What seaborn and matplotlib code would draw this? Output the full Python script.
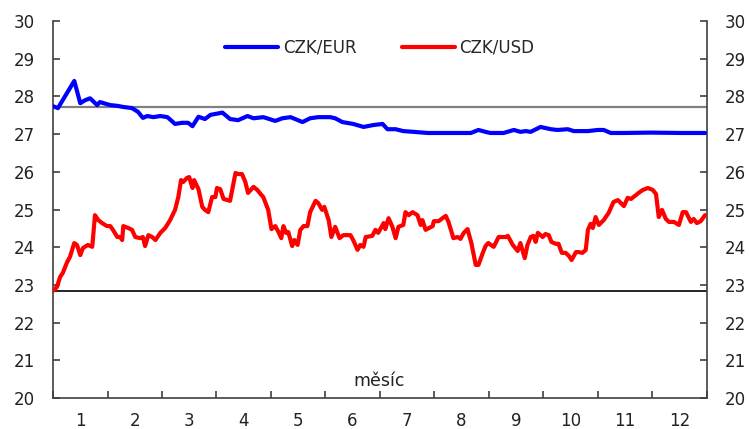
import matplotlib
matplotlib.use("Agg")
import matplotlib.pyplot as plt
import numpy as np
import pandas as pd
import seaborn as sns

# month position (0 = start of January, 12 = end of December) and rate
eur_t = [0, 0.09, 0.39, 0.50, 0.59, 0.68, 0.81, 0.86, 1.05, 1.18, 1.29, 1.45,
         1.56, 1.65, 1.73, 1.84, 1.97, 2.10, 2.24, 2.37, 2.48, 2.56, 2.67, 2.79,
         2.89, 3.11, 3.25, 3.40, 3.57, 3.68, 3.86, 4.08, 4.21, 4.36, 4.58, 4.72,
         4.87, 5.09, 5.18, 5.31, 5.51, 5.70, 5.88, 6.05, 6.14, 6.29, 6.43, 6.62,
         6.88, 7.06, 7.24, 7.67, 7.81, 7.94, 8.03, 8.27, 8.46, 8.58, 8.68, 8.77,
         8.95, 9.14, 9.26, 9.45, 9.56, 9.82, 10.00, 10.11, 10.24, 10.48, 10.97,
         11.53, 11.97]
eur_val = [27.74, 27.69, 28.41, 27.82, 27.90, 27.95, 27.77, 27.85, 27.77, 27.75,
           27.72, 27.69, 27.59, 27.43, 27.48, 27.45, 27.48, 27.45, 27.27, 27.30,
           27.30, 27.21, 27.46, 27.40, 27.51, 27.57, 27.40, 27.37, 27.48, 27.42,
           27.45, 27.35, 27.42, 27.45, 27.32, 27.42, 27.45, 27.45, 27.42, 27.32,
           27.27, 27.19, 27.24, 27.27, 27.13, 27.13, 27.08, 27.06, 27.03, 27.03,
           27.03, 27.03, 27.11, 27.06, 27.03, 27.03, 27.11, 27.06, 27.08, 27.06,
           27.19, 27.13, 27.11, 27.13, 27.08, 27.08, 27.11, 27.11, 27.03, 27.03,
           27.04, 27.03, 27.03]

usd_t = [0, 0.07, 0.13, 0.18, 0.26, 0.31, 0.39, 0.44, 0.50, 0.55, 0.64, 0.72,
         0.77, 0.83, 0.90, 0.99, 1.05, 1.10, 1.18, 1.23, 1.27, 1.29, 1.38, 1.45,
         1.51, 1.60, 1.65, 1.69, 1.75, 1.82, 1.88, 1.97, 2.06, 2.15, 2.24, 2.30,
         2.35, 2.39, 2.46, 2.50, 2.56, 2.59, 2.67, 2.74, 2.79, 2.85, 2.92, 2.98,
         3.01, 3.07, 3.13, 3.20, 3.25, 3.29, 3.35, 3.40, 3.47, 3.53, 3.58, 3.68,
         3.75, 3.81, 3.86, 3.95, 4.01, 4.08, 4.14, 4.19, 4.23, 4.28, 4.32, 4.39,
         4.43, 4.49, 4.54, 4.60, 4.67, 4.72, 4.82, 4.87, 4.94, 4.98, 5.06, 5.11,
         5.18, 5.26, 5.33, 5.46, 5.51, 5.59, 5.64, 5.70, 5.74, 5.86, 5.92, 5.97,
         6.07, 6.10, 6.16, 6.23, 6.29, 6.34, 6.43, 6.47, 6.53, 6.60, 6.69, 6.75,
         6.78, 6.84, 6.97, 6.99, 7.08, 7.15, 7.21, 7.26, 7.35, 7.43, 7.48, 7.54,
         7.61, 7.68, 7.76, 7.81, 7.89, 7.94, 7.99, 8.09, 8.18, 8.31, 8.35, 8.44,
         8.53, 8.58, 8.66, 8.71, 8.77, 8.82, 8.86, 8.90, 8.99, 9.04, 9.10, 9.15,
         9.23, 9.28, 9.34, 9.41, 9.47, 9.52, 9.60, 9.65, 9.72, 9.78, 9.82, 9.87,
         9.91, 9.96, 10.02, 10.11, 10.20, 10.29, 10.37, 10.48, 10.55, 10.61,
         10.70, 10.75, 10.83, 10.92, 11.01, 11.07, 11.12, 11.18, 11.25, 11.31,
         11.40, 11.49, 11.56, 11.62, 11.71, 11.76, 11.82, 11.89, 11.97]
usd_val = [22.84, 22.94, 23.21, 23.32, 23.61, 23.74, 24.11, 24.06, 23.79, 23.98,
           24.06, 24.01, 24.85, 24.72, 24.64, 24.56, 24.56, 24.46, 24.27, 24.27,
           24.19, 24.56, 24.51, 24.46, 24.27, 24.24, 24.27, 24.03, 24.32, 24.27,
           24.19, 24.38, 24.51, 24.72, 24.99, 25.33, 25.78, 25.73, 25.84, 25.86,
           25.57, 25.78, 25.54, 25.07, 24.99, 24.93, 25.33, 25.33, 25.57, 25.54,
           25.28, 25.25, 25.23, 25.52, 25.97, 25.94, 25.94, 25.73, 25.44, 25.60,
           25.52, 25.41, 25.33, 24.99, 24.48, 24.56, 24.40, 24.24, 24.56, 24.38,
           24.40, 24.03, 24.19, 24.06, 24.46, 24.56, 24.56, 24.93, 25.23, 25.17,
           24.99, 25.07, 24.72, 24.27, 24.54, 24.24, 24.32, 24.32, 24.19, 23.93,
           24.06, 24.01, 24.27, 24.30, 24.46, 24.38, 24.64, 24.48, 24.77, 24.54,
           24.24, 24.54, 24.59, 24.93, 24.85, 24.93, 24.85, 24.59, 24.72, 24.46,
           24.56, 24.69, 24.69, 24.77, 24.83, 24.67, 24.24, 24.27, 24.22, 24.38,
           24.48, 24.11, 23.53, 23.53, 23.85, 24.03, 24.11, 24.01, 24.27, 24.27,
           24.30, 24.06, 23.90, 24.11, 23.71, 24.06, 24.27, 24.30, 24.14, 24.38,
           24.27, 24.35, 24.32, 24.14, 24.09, 24.09, 23.85, 23.85, 23.77, 23.66,
           23.87, 23.87, 23.85, 23.93, 24.46, 24.62, 24.51, 24.80, 24.59, 24.72,
           24.91, 25.20, 25.25, 25.09, 25.31, 25.28, 25.38, 25.44, 25.52, 25.57,
           25.52, 25.41, 24.80, 24.99, 24.75, 24.67, 24.67, 24.59, 24.93, 24.93,
           24.67, 24.75, 24.64, 24.69, 24.85]

eur_ref = 27.73
usd_ref = 22.84
months = [str(m) for m in range(1, 13)]

sns.set_theme(style="white")
plt.rcParams["font.family"] = ["DejaVu Sans"]

eur = pd.DataFrame({"t": eur_t, "rate": eur_val})
usd = pd.DataFrame({"t": usd_t, "rate": usd_val})

fig = plt.figure(figsize=(7.49, 4.29), dpi=100)
ax = fig.add_axes([0.0708, 0.0723, 0.8727, 0.8787])

ax.axhline(eur_ref, color="#808080", linewidth=1.6, zorder=1)
ax.axhline(usd_ref, color="black", linewidth=1.2, zorder=1)
sns.lineplot(data=eur, x="t", y="rate", color="#0000FF", linewidth=3,
             label="CZK/EUR", ax=ax, zorder=3)
sns.lineplot(data=usd, x="t", y="rate", color="#FF0000", linewidth=3,
             label="CZK/USD", ax=ax, zorder=3)

ax.set_xlim(0, 12)
ax.set_ylim(20, 30)
ax.set_xlabel("")
ax.set_ylabel("")

ax.set_xticks(range(0, 13))
ax.set_xticklabels([])
ax.set_xticks(np.arange(0.5, 12, 1), minor=True)
ax.set_xticklabels(months, minor=True)
ax.set_yticks(range(20, 31))

for s in ["left", "bottom", "right"]:
    ax.spines[s].set_visible(True)
    ax.spines[s].set_color("#404040")
    ax.spines[s].set_linewidth(1.2)
ax.spines["top"].set_visible(False)

ax.tick_params(axis="x", which="major", direction="in", length=5, width=1.2,
               color="#404040", bottom=True)
ax.tick_params(axis="x", which="minor", length=0, pad=10, labelsize=12,
               labelcolor="#222222")
ax.tick_params(axis="y", direction="in", length=5, width=1.2, color="#404040",
               left=True, right=True, labelleft=True, labelright=True,
               pad=13, labelsize=12, labelcolor="#222222")

ax.text(0.499, 0.045, "měsíc", transform=ax.transAxes, ha="center",
        va="center", fontsize=12.5, color="#222222")

ax.legend(loc="center", bbox_to_anchor=(0.5, 0.93), ncol=2, frameon=False,
          fontsize=12, handlelength=3.2, handletextpad=0.25, columnspacing=2.75)

fig.savefig("out.png", dpi=100)
